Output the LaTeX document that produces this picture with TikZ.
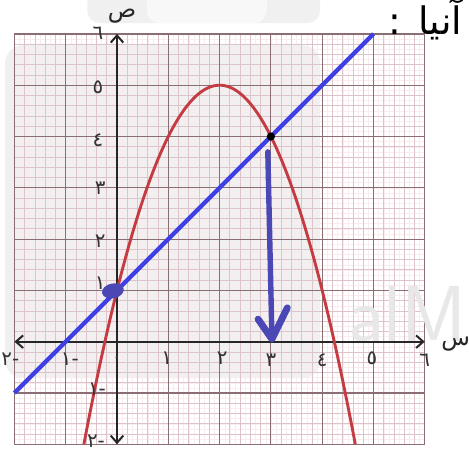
\documentclass[tikz,border=0pt]{standalone}
\usepackage{fontspec}
\newfontfamily\arabicfont[Script=Arabic]{DejaVu Sans}
\TeXXeTstate=1
\usetikzlibrary{arrows.meta}
\definecolor{gridfine}{HTML}{FAEDF0}
\definecolor{gridmin}{HTML}{DDC3CA}
\definecolor{gridmaj}{HTML}{8A6E74}
\definecolor{parabred}{HTML}{C43B42}
\definecolor{lineblue}{HTML}{3F3FE6}
\definecolor{penblue}{HTML}{4B47B5}
\definecolor{wmgray}{HTML}{F0F0F0}
\definecolor{wmlight}{HTML}{F8F8F8}
\begin{document}
\begin{tikzpicture}[x=1cm,y=1cm,
  lbl/.style={font=\arabicfont\fontsize{11}{12}\selectfont, text=black!80, inner sep=0pt},
  axislbl/.style={font=\arabicfont\fontsize{13}{14}\selectfont, text=black!85, inner sep=0pt},
  axisline/.style={line width=1.1pt, black!85, {Straight Barb[length=4pt,width=7pt]}-{Straight Barb[length=4pt,width=7pt]}},
  parab/.style={line width=1.6pt, parabred},
  bline/.style={line width=2.3pt, lineblue},
  penstroke/.style={line width=3pt, penblue, line cap=round, line join=round}]
\useasboundingbox (-2.281,-2.189) rectangle (6.862,6.661);
\fill[white] (-2.281,-2.189) rectangle (6.862,6.661);
% watermark
\fill[wmgray, rounded corners=0.35cm] (-2.18,-0.71) rectangle (3.96,5.78);
\fill[wmgray, rounded corners=0.25cm] (-0.58,6.21) rectangle (3.96,7.2);
\fill[wmlight, rounded corners=0.25cm] (0.58,6.21) rectangle (2.92,7.2);
% grid
\draw[gridfine, line width=0.25pt, step=0.1] (-2,-2) grid (6,6);
\draw[gridmin, line width=0.45pt, step=0.2] (-2,-2) grid (6,6);
\draw[gridmaj, line width=0.65pt, step=1] (-2,-2) grid (6,6);
% watermark text
\node[font=\fontsize{44}{44}\selectfont\sffamily, text=black!9, anchor=base west, inner sep=0pt] (wm) at (4.5,0.0) {alM};
% axes
\coordinate (xl) at (-2,0); \coordinate (xr) at (6,0);
\coordinate (yb) at (0,-2); \coordinate (yt) at (0,6);
\draw[axisline] (xl) -- (xr);
\draw[axisline] (yb) -- (yt);
% curves
\draw[parab] plot[domain=-0.6458:4.6458, samples=120, smooth] (\x,{5-(\x-2)^2});
\coordinate (la) at (-2,-1); \coordinate (lb) at (5,6);
\draw[bline] (la) -- (lb);
% points
\coordinate (P) at (3,4);
\fill[penblue, rotate around={12:(-0.08,0.99)}] (-0.08,0.99) ellipse (0.215 and 0.145);
\fill[black] (P) circle (0.08);
% pen arrow
\coordinate (s1) at (2.94,3.70); \coordinate (s2) at (3.02,0.07);
\coordinate (h1) at (2.75,0.44); \coordinate (h2) at (3.02,0.05); \coordinate (h3) at (3.32,0.66);
\draw[penstroke] (s1) -- (s2);
\draw[penstroke, line width=3.8pt] (h1) -- (h2) -- (h3);
% y labels
\node[lbl] (y6) at (-0.37,6.02) {٦};
\node[lbl] (y5) at (-0.37,4.96) {٥};
\node[lbl] (y4) at (-0.37,3.93) {٤};
\node[lbl] (y3) at (-0.33,3.00) {٣};
\node[lbl] (y2) at (-0.33,1.95) {٢};
\node[lbl] (y1) at (-0.33,1.14) {١};
\node[lbl] (ym1) at (-0.39,-0.92) {\beginR-١\endR};
\node[lbl] (ym2) at (-0.41,-1.94) {\beginR-٢\endR};
% x labels
\node[lbl] (xm2) at (-2.08,-0.34) {\beginR-٢\endR};
\node[lbl] (xm1) at (-0.92,-0.34) {\beginR-١\endR};
\node[lbl] (x0) at (0,-0.36) {٠};
\node[lbl] (x1) at (0.97,-0.32) {١};
\node[lbl] (x2) at (2.05,-0.32) {٢};
\node[lbl] (x3) at (3.0,-0.36) {٣};
\node[lbl] (x4) at (4.0,-0.36) {٤};
\node[lbl] (x5) at (4.97,-0.32) {٥};
\node[lbl] (x6) at (6.0,-0.36) {٦};
\node[axislbl] (ylab) at (0.1,6.35) {ص};
\node[axislbl] (xlab) at (6.6,-0.04) {س};
% title
\node[font=\arabicfont\fontsize{21}{23}\selectfont, anchor=base east, inner sep=0pt] (title) at (6.74,5.98) {\beginR آنيا\hspace{0.45em}:\endR};
\end{tikzpicture}
\end{document}
